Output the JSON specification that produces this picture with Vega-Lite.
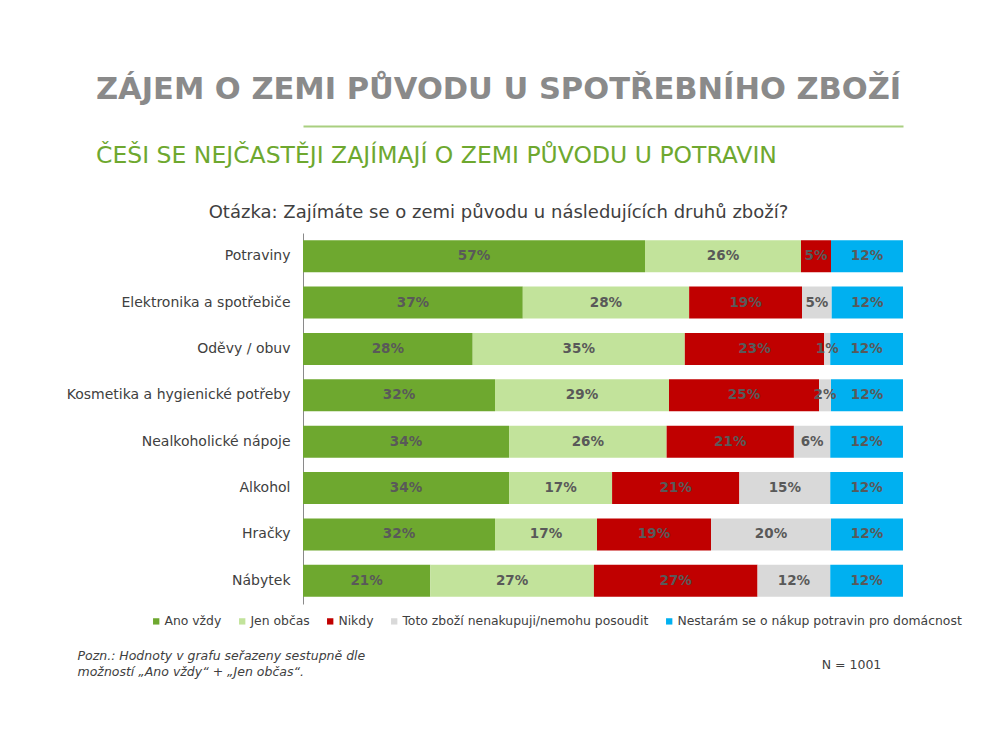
{
  "$schema": "https://vega.github.io/schema/vega-lite/v6.json",
  "width": 600,
  "height": 371,
  "autosize": {"type": "none"},
  "padding": {"left": 303, "top": 233, "right": 96, "bottom": 145},
  "background": "white",
  "config": {"font": "DejaVu Sans", "view": {"stroke": null}},
  "title": {
    "text": "ZÁJEM O ZEMI PŮVODU U SPOTŘEBNÍHO ZBOŽÍ",
    "subtitle": "ČEŠI SE NEJČASTĚJI ZAJÍMAJÍ O ZEMI PŮVODU U POTRAVIN",
    "anchor": "start",
    "frame": "group",
    "font": "DejaVu Sans",
    "fontSize": 30.5,
    "fontWeight": "bold",
    "color": "#8a8a8a",
    "subtitleFont": "DejaVu Sans",
    "subtitleFontSize": 23.5,
    "subtitleColor": "#6ea82f",
    "subtitlePadding": 38,
    "dx": -207,
    "offset": -41
  },
  "data": {
    "values": [
      {"item": "Potraviny", "cat": "Ano vždy", "o": 1, "v": 0.57},
      {"item": "Potraviny", "cat": "Jen občas", "o": 2, "v": 0.26},
      {"item": "Potraviny", "cat": "Nikdy", "o": 3, "v": 0.05},
      {"item": "Potraviny", "cat": "Nestarám se o nákup potravin pro domácnost", "o": 5, "v": 0.12},
      {"item": "Elektronika a spotřebiče", "cat": "Ano vždy", "o": 1, "v": 0.37},
      {"item": "Elektronika a spotřebiče", "cat": "Jen občas", "o": 2, "v": 0.28},
      {"item": "Elektronika a spotřebiče", "cat": "Nikdy", "o": 3, "v": 0.19},
      {"item": "Elektronika a spotřebiče", "cat": "Toto zboží nenakupuji/nemohu posoudit", "o": 4, "v": 0.05},
      {"item": "Elektronika a spotřebiče", "cat": "Nestarám se o nákup potravin pro domácnost", "o": 5, "v": 0.12},
      {"item": "Oděvy / obuv", "cat": "Ano vždy", "o": 1, "v": 0.28},
      {"item": "Oděvy / obuv", "cat": "Jen občas", "o": 2, "v": 0.35},
      {"item": "Oděvy / obuv", "cat": "Nikdy", "o": 3, "v": 0.23},
      {"item": "Oděvy / obuv", "cat": "Toto zboží nenakupuji/nemohu posoudit", "o": 4, "v": 0.01},
      {"item": "Oděvy / obuv", "cat": "Nestarám se o nákup potravin pro domácnost", "o": 5, "v": 0.12},
      {"item": "Kosmetika a hygienické potřeby", "cat": "Ano vždy", "o": 1, "v": 0.32},
      {"item": "Kosmetika a hygienické potřeby", "cat": "Jen občas", "o": 2, "v": 0.29},
      {"item": "Kosmetika a hygienické potřeby", "cat": "Nikdy", "o": 3, "v": 0.25},
      {"item": "Kosmetika a hygienické potřeby", "cat": "Toto zboží nenakupuji/nemohu posoudit", "o": 4, "v": 0.02},
      {"item": "Kosmetika a hygienické potřeby", "cat": "Nestarám se o nákup potravin pro domácnost", "o": 5, "v": 0.12},
      {"item": "Nealkoholické nápoje", "cat": "Ano vždy", "o": 1, "v": 0.34},
      {"item": "Nealkoholické nápoje", "cat": "Jen občas", "o": 2, "v": 0.26},
      {"item": "Nealkoholické nápoje", "cat": "Nikdy", "o": 3, "v": 0.21},
      {"item": "Nealkoholické nápoje", "cat": "Toto zboží nenakupuji/nemohu posoudit", "o": 4, "v": 0.06},
      {"item": "Nealkoholické nápoje", "cat": "Nestarám se o nákup potravin pro domácnost", "o": 5, "v": 0.12},
      {"item": "Alkohol", "cat": "Ano vždy", "o": 1, "v": 0.34},
      {"item": "Alkohol", "cat": "Jen občas", "o": 2, "v": 0.17},
      {"item": "Alkohol", "cat": "Nikdy", "o": 3, "v": 0.21},
      {"item": "Alkohol", "cat": "Toto zboží nenakupuji/nemohu posoudit", "o": 4, "v": 0.15},
      {"item": "Alkohol", "cat": "Nestarám se o nákup potravin pro domácnost", "o": 5, "v": 0.12},
      {"item": "Hračky", "cat": "Ano vždy", "o": 1, "v": 0.32},
      {"item": "Hračky", "cat": "Jen občas", "o": 2, "v": 0.17},
      {"item": "Hračky", "cat": "Nikdy", "o": 3, "v": 0.19},
      {"item": "Hračky", "cat": "Toto zboží nenakupuji/nemohu posoudit", "o": 4, "v": 0.20},
      {"item": "Hračky", "cat": "Nestarám se o nákup potravin pro domácnost", "o": 5, "v": 0.12},
      {"item": "Nábytek", "cat": "Ano vždy", "o": 1, "v": 0.21},
      {"item": "Nábytek", "cat": "Jen občas", "o": 2, "v": 0.27},
      {"item": "Nábytek", "cat": "Nikdy", "o": 3, "v": 0.27},
      {"item": "Nábytek", "cat": "Toto zboží nenakupuji/nemohu posoudit", "o": 4, "v": 0.12},
      {"item": "Nábytek", "cat": "Nestarám se o nákup potravin pro domácnost", "o": 5, "v": 0.12}
    ]
  },
  "layer": [
    {
      "mark": {"type": "bar"},
      "encoding": {
        "y": {
          "field": "item",
          "type": "nominal",
          "sort": null,
          "scale": {"paddingInner": 0.31, "paddingOuter": 0.155},
          "axis": {
            "title": null,
            "domain": true,
            "domainColor": "#8a8a8a",
            "ticks": false,
            "grid": false,
            "labelFont": "DejaVu Sans",
            "labelFontSize": 14,
            "labelColor": "#404040",
            "labelPadding": 13,
            "labelLimit": 300
          }
        },
        "x": {
          "field": "v",
          "type": "quantitative",
          "stack": "normalize",
          "axis": {
            "orient": "bottom",
            "labels": false,
            "ticks": false,
            "domain": false,
            "grid": false,
            "title": ["Pozn.: Hodnoty v grafu seřazeny sestupně dle", "možností „Ano vždy“ + „Jen občas“."],
            "titleFont": "DejaVu Sans",
            "titleFontStyle": "italic",
            "titleFontWeight": "normal",
            "titleFontSize": 12.5,
            "titleColor": "#404040",
            "titleAnchor": "start",
            "titleAlign": "left",
            "titleBaseline": "alphabetic",
            "titleX": -226,
            "titleY": 55,
            "titleLineHeight": 16
          }
        },
        "color": {
          "field": "cat",
          "type": "nominal",
          "scale": {
            "domain": ["Ano vždy", "Jen občas", "Nikdy", "Toto zboží nenakupuji/nemohu posoudit", "Nestarám se o nákup potravin pro domácnost"],
            "range": ["#6ea82f", "#c2e39b", "#c00000", "#d9d9d9", "#00b0f0"]
          },
          "legend": {
            "orient": "none",
            "legendX": -153,
            "legendY": 382,
            "direction": "horizontal",
            "columns": 5,
            "title": null,
            "symbolType": "square",
            "symbolSize": 40,
            "symbolStrokeWidth": 0,
            "labelFont": "DejaVu Sans",
            "labelFontSize": 12.4,
            "labelColor": "#404040",
            "labelLimit": 400,
            "labelOffset": 2,
            "columnPadding": 14
          }
        },
        "order": {"field": "o"}
      }
    },
    {
      "mark": {"type": "text", "font": "DejaVu Sans", "fontSize": 13.5, "fontWeight": "bold", "color": "#595959"},
      "encoding": {
        "y": {
          "field": "item",
          "type": "nominal",
          "sort": null,
          "axis": {
            "orient": "right",
            "labels": false,
            "ticks": false,
            "domain": false,
            "grid": false,
            "title": "N = 1001",
            "titleAngle": 0,
            "titleX": -52,
            "titleY": 431,
            "titleAlign": "center",
            "titleBaseline": "middle",
            "titleFont": "DejaVu Sans",
            "titleFontSize": 12.5,
            "titleFontWeight": "normal",
            "titleColor": "#404040"
          }
        },
        "x": {
          "field": "v",
          "type": "quantitative",
          "stack": "normalize",
          "bandPosition": 0.5,
          "axis": {
            "orient": "top",
            "offset": 107,
            "labels": false,
            "ticks": false,
            "domain": true,
            "domainColor": "#a9cf80",
            "domainWidth": 2,
            "grid": false,
            "title": "Otázka: Zajímáte se o zemi původu u následujících druhů zboží?",
            "titleFont": "DejaVu Sans",
            "titleFontSize": 18,
            "titleFontWeight": "normal",
            "titleColor": "#404040",
            "titleX": 195,
            "titleY": 91,
            "titleBaseline": "alphabetic",
            "titleAlign": "center"
          }
        },
        "detail": {"field": "cat"},
        "order": {"field": "o"},
        "text": {"field": "v", "type": "quantitative", "format": ".0%"}
      }
    }
  ],
  "resolve": {"axis": {"x": "independent", "y": "independent"}}
}
